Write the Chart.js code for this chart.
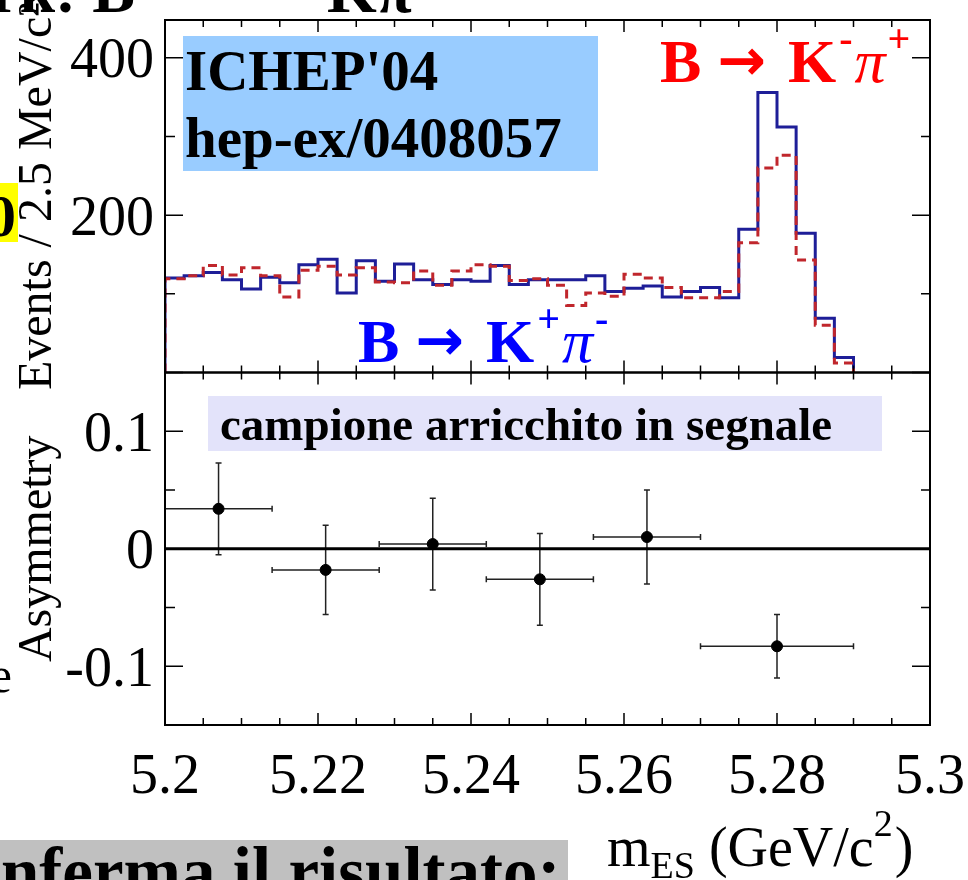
<!DOCTYPE html>
<html>
<head>
<meta charset="utf-8">
<script src="https://cdn.jsdelivr.net/npm/chart.js@4.4.1/dist/chart.umd.min.js"></script>
<style>
  body { margin: 0; background: #fff; }
  #wrap { width: 968px; height: 880px; position: relative; overflow: hidden; }
</style>
</head>
<body>
<div id="wrap"><canvas id="mes" width="968" height="880"></canvas></div>
<script>
// m_ES histograms, 2.5 MeV/c^2 bins starting at 5.200 GeV/c^2
var binStart = 5.2
var binWidth = 0.0025
var kPlusPiMinus = [120,123,127,118,106,121,114,137,144,101,142,116,138,118,112,118,116,136,112,118,
                    118,118,123,103,107,110,96,103,108,95,182,356,312,177,69,19]
var kMinusPiPlus = [119,123,136,124,133,123,96,130,135,124,133,115,114,129,111,129,137,135,117,119,
                    111,85,101,97,125,120,108,95,95,103,165,260,276,143,60,12]

// charge asymmetry in signal-enriched slices
var asymLow    = [5.200, 5.214, 5.228, 5.242, 5.256, 5.270]
var asymHigh   = [5.214, 5.228, 5.242, 5.256, 5.270, 5.290]
var asymCenter = [5.207, 5.221, 5.235, 5.249, 5.263, 5.280]
var asymValue  = [0.034, -0.018, 0.004, -0.026, 0.010, -0.083]
var asymError  = [0.039, 0.038, 0.039, 0.039, 0.040, 0.027]

var massTicks = [5.2, 5.22, 5.24, 5.26, 5.28, 5.3]
var massTickLabels = ['5.2', '5.22', '5.24', '5.26', '5.28', '5.3']
var eventTicks = [200, 400]
var eventTickLabels = ['200', '400']
var eventMinor = [100, 300]
var asymTicks = [-0.1, 0, 0.1]
var asymTickLabels = ['-0.1', '0', '0.1']
var asymMinor = [-0.05, 0.05]

var serif = '"Liberation Serif", "Times New Roman", serif'
var blue = '#1e1e98'
var red = '#c0262c'

function histPoints(counts) {
  var pts = [{x: binStart, y: 0}]
  counts.forEach(function (c, i) { pts.push({x: binStart + i * binWidth, y: c}) })
  pts.push({x: binStart + counts.length * binWidth, y: 0})
  return pts
}

// minor mass ticks every 5 MeV
var massMinor = []
for (var m = 1; m < 20; m++) {
  if (m % 4 != 0) massMinor.push(5.2 + m * 0.005)
}

function fixedTicks(values) {
  return function (s) { s.ticks = values.map(function (v) { return {value: v} }) }
}

function richText(ctx, x, y, parts) {
  var cx = x
  parts.forEach(function (p) {
    ctx.font = p.font
    ctx.fillStyle = p.color || '#000'
    ctx.fillText(p.text, cx, y + (p.dy || 0))
    cx += ctx.measureText(p.text).width + (p.dx || 0)
  })
  return cx
}

// B -> K pi label with charge superscripts
function decayLabel(ctx, x, y, color, kCharge, piCharge) {
  var big = 'bold 62px ' + serif, sup = 'bold 40px ' + serif
  richText(ctx, x, y, [
    {text: 'B', font: big, color: color, dx: 16},
    {text: '\u2192', font: 'bold 58px "DejaVu Sans"', color: color, dy: -2, dx: 22},
    {text: 'K', font: big, color: color, dx: 3},
    {text: kCharge, font: sup, color: color, dy: -30, dx: 2},
    {text: '\u03c0', font: 'italic 62px ' + serif, color: color, dx: 2},
    {text: piCharge, font: sup, color: color, dy: -30}
  ])
}

var errorBars = {
  id: 'errorBars',
  beforeDatasetsDraw: function (chart) {
    var ctx = chart.ctx, x = chart.scales.x, y = chart.scales.yA
    ctx.save()
    ctx.strokeStyle = '#222'
    ctx.lineWidth = 1.5
    asymValue.forEach(function (v, i) {
      var px = x.getPixelForValue(asymCenter[i])
      var py = y.getPixelForValue(v)
      var x0 = x.getPixelForValue(asymLow[i]), x1 = x.getPixelForValue(asymHigh[i])
      var y0 = y.getPixelForValue(v - asymError[i]), y1 = y.getPixelForValue(v + asymError[i])
      ctx.beginPath()
      ctx.moveTo(x0, py); ctx.lineTo(x1, py)
      ctx.moveTo(x0, py - 3); ctx.lineTo(x0, py + 3)
      ctx.moveTo(x1, py - 3); ctx.lineTo(x1, py + 3)
      ctx.moveTo(px, y0); ctx.lineTo(px, y1)
      ctx.moveTo(px - 3, y0); ctx.lineTo(px + 3, y0)
      ctx.moveTo(px - 3, y1); ctx.lineTo(px + 3, y1)
      ctx.stroke()
    })
    ctx.restore()
  }
}

// ROOT-style frames with inward ticks on every side
var frames = {
  id: 'frames',
  afterDatasetsDraw: function (chart) {
    var ctx = chart.ctx, x = chart.scales.x
    ctx.save()
    ctx.strokeStyle = '#000'
    ;[[chart.scales.yE, eventTicks.concat([0]), eventMinor], [chart.scales.yA, asymTicks, asymMinor]].forEach(function (p) {
      var y = p[0]
      ctx.lineWidth = 1.5
      ctx.beginPath()
      massTicks.forEach(function (v) {
        var px = x.getPixelForValue(v)
        ctx.moveTo(px, y.top); ctx.lineTo(px, y.top + 12)
        ctx.moveTo(px, y.bottom); ctx.lineTo(px, y.bottom - 12)
      })
      massMinor.forEach(function (v) {
        var px = x.getPixelForValue(v)
        ctx.moveTo(px, y.top); ctx.lineTo(px, y.top + 7)
        ctx.moveTo(px, y.bottom); ctx.lineTo(px, y.bottom - 7)
      })
      p[1].forEach(function (v) {
        var py = y.getPixelForValue(v)
        ctx.moveTo(x.left, py); ctx.lineTo(x.left + 18, py)
        ctx.moveTo(x.right, py); ctx.lineTo(x.right - 18, py)
      })
      p[2].forEach(function (v) {
        var py = y.getPixelForValue(v)
        ctx.moveTo(x.left, py); ctx.lineTo(x.left + 10, py)
        ctx.moveTo(x.right, py); ctx.lineTo(x.right - 9, py)
      })
      ctx.stroke()
      ctx.lineWidth = 2
      ctx.strokeRect(x.left, y.top, x.right - x.left, y.bottom - y.top)
    })
    var yA = chart.scales.yA
    var zero = yA.getPixelForValue(0)
    ctx.lineWidth = 3
    ctx.beginPath()
    ctx.moveTo(x.left, zero); ctx.lineTo(x.right, zero)
    ctx.stroke()
    ctx.restore()
  }
}

var notes = {
  id: 'notes',
  afterDraw: function (chart) {
    var ctx = chart.ctx
    ctx.save()
    ctx.textBaseline = 'alphabetic'
    ctx.textAlign = 'left'

    ctx.fillStyle = '#99ccff'
    ctx.fillRect(183, 36, 415, 135)
    ctx.fillStyle = '#000'
    ctx.font = 'bold 57px ' + serif
    ctx.fillText("ICHEP'04", 185, 90)
    ctx.fillText('hep-ex/0408057', 185, 157)

    decayLabel(ctx, 660, 82, '#ff0000', '-', '+')
    decayLabel(ctx, 358, 362, '#0000ff', '+', '-')

    ctx.fillStyle = '#e3e3fa'
    ctx.fillRect(208, 396, 674, 55)
    ctx.fillStyle = '#000'
    ctx.font = 'bold 47px ' + serif
    ctx.fillText('campione arricchito in segnale', 220, 440)

    // x axis title
    richText(ctx, 607, 866, [
      {text: 'm', font: '56px ' + serif},
      {text: 'ES', font: '38px ' + serif, dy: 12, dx: 14},
      {text: '(GeV/c', font: '56px ' + serif},
      {text: '2', font: '38px ' + serif, dy: -30, dx: 2},
      {text: ')', font: '56px ' + serif}
    ])

    // bits of the surrounding slide
    ctx.fillStyle = '#c0c0c0'
    ctx.fillRect(0, 840, 568, 40)
    ctx.fillStyle = '#000'
    ctx.font = 'bold 69px ' + serif
    ctx.fillText('conferma il risultato:', 1 - ctx.measureText('co').width, 895)
    ctx.textAlign = 'right'
    ctx.font = 'bold 64px ' + serif
    ctx.fillText('Benchmark: B', 135, 12)
    ctx.fillStyle = '#ffff00'
    ctx.fillRect(0, 183, 18, 59)
    ctx.fillStyle = '#000'
    ctx.font = 'bold 60px ' + serif
    ctx.fillText('0', 16, 236)
    ctx.font = '50px ' + serif
    ctx.fillText('e', 12, 692)
    ctx.textAlign = 'left'
    ctx.font = 'bold 64px ' + serif
    ctx.fillText('K\u03c0', 327, 12)
    ctx.restore()
  }
}

var axisCommon = {
  grid: {display: false},
  border: {display: false}
}

var ctx = document.getElementById('mes').getContext('2d')
var mesChart = new Chart(ctx, {
  type: 'line',
  data: {
    datasets: [
      {
        label: 'K-pi+',
        data: histPoints(kMinusPiPlus),
        yAxisID: 'yE',
        borderColor: red,
        borderWidth: 3,
        borderDash: [9, 6],
        stepped: true,
        pointRadius: 0,
        fill: false,
        order: 0
      },
      {
        label: 'K+pi-',
        data: histPoints(kPlusPiMinus),
        yAxisID: 'yE',
        borderColor: blue,
        borderWidth: 3,
        stepped: true,
        pointRadius: 0,
        fill: false,
        order: 1
      },
      {
        type: 'scatter',
        label: 'asymmetry',
        data: asymCenter.map(function (c, i) { return {x: c, y: asymValue[i]} }),
        yAxisID: 'yA',
        pointRadius: 5.5,
        backgroundColor: '#000',
        borderColor: '#000',
        order: 0
      }
    ]
  },
  options: {
    responsive: false,
    animation: false,
    layout: {padding: {top: 20, right: 38, left: 0, bottom: 0}},
    plugins: {legend: {display: false}, tooltip: {enabled: false}},
    scales: {
      x: Object.assign({}, axisCommon, {
        type: 'linear',
        position: 'bottom',
        min: 5.2,
        max: 5.3,
        afterBuildTicks: fixedTicks(massTicks),
        afterFit: function (s) { s.height = 155; s.paddingLeft = 0; s.paddingRight = 0 },
        ticks: {
          autoSkip: false, maxRotation: 0, padding: 12, color: '#000',
          font: {family: serif, size: 56},
          callback: function (v, i) { return massTickLabels[i] }
        }
      }),
      yA: Object.assign({}, axisCommon, {
        type: 'linear',
        position: 'left',
        stack: 'panels',
        stackWeight: 1,
        min: -0.15,
        max: 0.15,
        afterBuildTicks: fixedTicks(asymTicks),
        afterFit: function (s) { s.width = 165; s.paddingTop = 0; s.paddingBottom = 0 },
        ticks: {
          autoSkip: false, padding: 3, color: '#000', labelOffset: 5,
          font: {family: serif, size: 56},
          callback: function (v, i) { return asymTickLabels[i] }
        },
        title: {display: true, text: 'Asymmetry', color: '#000', font: {family: serif, size: 48}, padding: {top: 10, bottom: 0}}
      }),
      yE: Object.assign({}, axisCommon, {
        type: 'linear',
        position: 'left',
        stack: 'panels',
        stackWeight: 1,
        min: 0,
        max: 448,
        afterBuildTicks: fixedTicks(eventTicks),
        afterFit: function (s) { s.width = 165; s.paddingTop = 0; s.paddingBottom = 0 },
        ticks: {
          autoSkip: false, padding: 3, color: '#000', labelOffset: 5,
          font: {family: serif, size: 56},
          callback: function (v, i) { return eventTickLabels[i] }
        },
        title: {display: true, text: 'Events / 2.5 MeV/c\u00b2', color: '#000', font: {family: serif, size: 48}, padding: {top: 10, bottom: 0}}
      })
    }
  },
  plugins: [errorBars, frames, notes]
})
</script>
</body>
</html>
